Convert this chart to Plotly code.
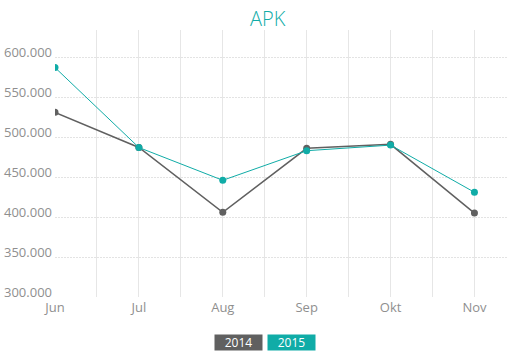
import plotly.graph_objects as go

months = ["Jun", "Jul", "Aug", "Sep", "Okt", "Nov"]
series_names = ["2014", "2015"]
values_2014 = [531000, 487000, 406000, 486000, 491000, 405000]
values_2015 = [587000, 487000, 446000, 483000, 490000, 431000]
y_ticks = [300000, 350000, 400000, 450000, 500000, 550000, 600000]

GRAY = "#606060"
TEAL = "#10aca7"
FONT = "Open Sans"

x_idx = list(range(len(months)))

fig = go.Figure()
fig.add_trace(go.Scatter(x=x_idx, y=values_2014, name=series_names[0], mode="lines+markers",
                         line=dict(color=GRAY, width=1.5), marker=dict(color=GRAY, size=7)))
fig.add_trace(go.Scatter(x=x_idx, y=values_2015, name=series_names[1], mode="lines+markers",
                         line=dict(color=TEAL, width=1), marker=dict(color=TEAL, size=7)))

fig.update_layout(
    width=508, height=359,
    margin=dict(l=55, r=0, t=30, b=62, autoexpand=False),
    paper_bgcolor="white", plot_bgcolor="white",
    showlegend=False,
    separators=",.",
    title=dict(text="APK", x=0.527, xanchor="center", y=0.948, yanchor="middle",
               font=dict(family=FONT, size=20, color=TEAL, weight=300)),
    font=dict(family=FONT, size=13, color="#8f8f8f"),
    xaxis=dict(range=[0, 5.4], tickvals=x_idx, ticktext=months, showgrid=True,
               gridcolor="#e6e6e6", gridwidth=1, zeroline=False, showline=False,
               ticks="", ticklabelstandoff=1, automargin=False,
               minor=dict(dtick=0.5, tick0=0, showgrid=True, gridcolor="#e6e6e6", gridwidth=1)),
    yaxis=dict(range=[300000, 634000], tickvals=y_ticks, tickformat=",d", showgrid=True,
               gridcolor="#e3e3e3", gridwidth=1, griddash="2px,1px", zeroline=False, showline=False,
               ticks="", ticklabelstandoff=2, ticklabelshift=-5, automargin=False),
)

legend_x = [0.405, 0.522]
legend_colors = [GRAY, TEAL]
for name, xp, col in zip(series_names, legend_x, legend_colors):
    fig.add_annotation(text=name, xref="paper", yref="paper", x=xp, y=-0.170,
                       xanchor="center", yanchor="middle", showarrow=False,
                       bgcolor=col, width=45, height=13,
                       font=dict(family=FONT, size=12, color="white"))

fig.write_html("out.html", config={"displayModeBar": False},
               post_script="document.body.style.margin='0px';")
